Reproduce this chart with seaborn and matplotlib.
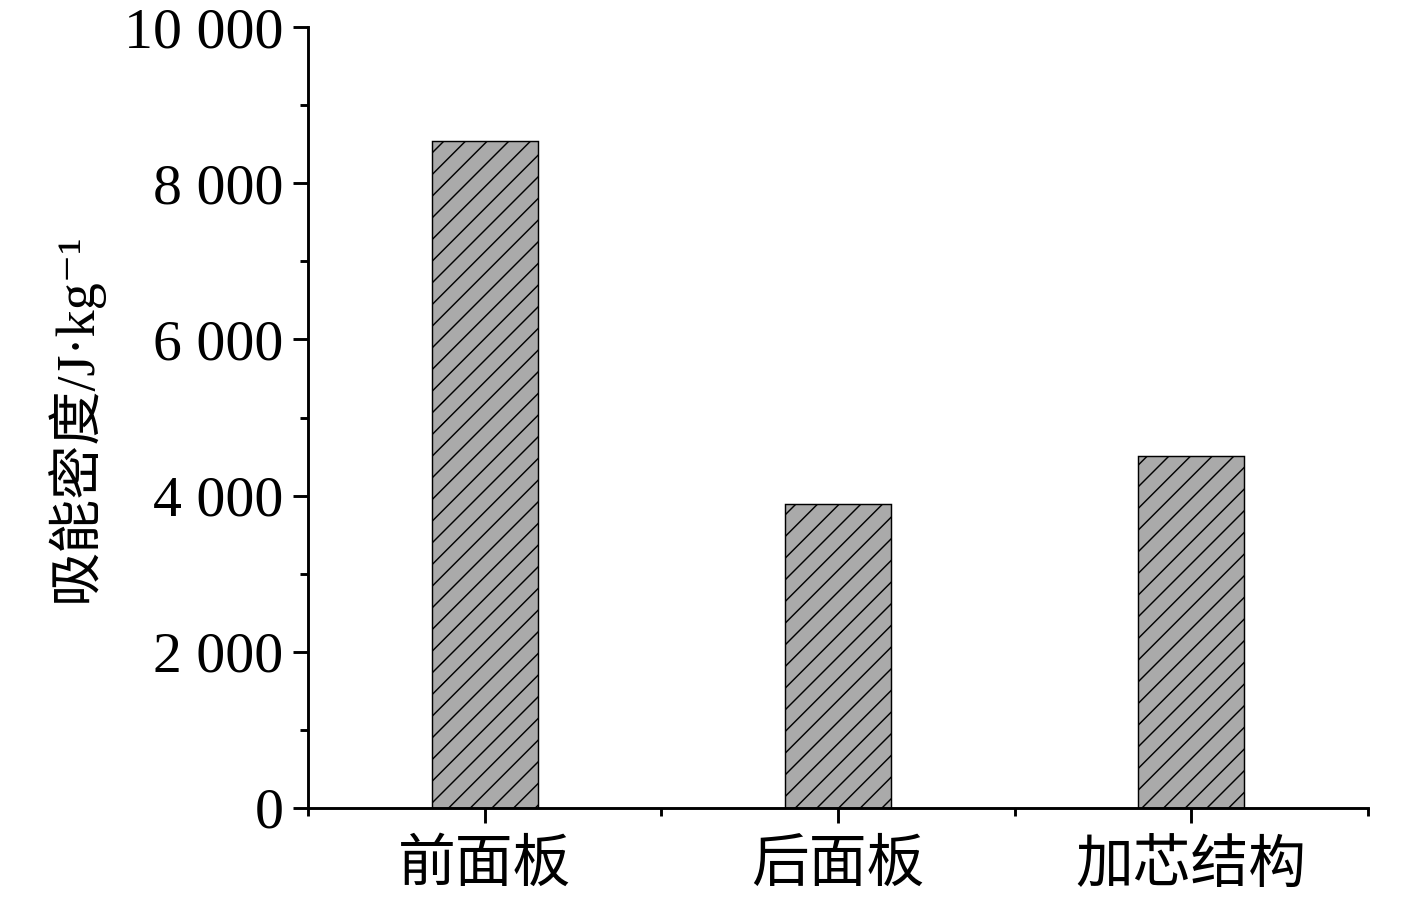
import matplotlib
matplotlib.use("Agg")
import matplotlib.pyplot as plt
import seaborn as sns
import pandas as pd
from matplotlib.ticker import FuncFormatter, MultipleLocator, FixedLocator

# 数据
categories = ["前面板", "后面板", "加芯结构"]
energy = [8540, 3890, 4510]

df = pd.DataFrame({"结构": categories, "吸能密度": energy})

sns.set_style("ticks")
plt.rcParams["font.family"] = ["Liberation Serif", "Noto Sans CJK SC", "DejaVu Serif"]
plt.rcParams["hatch.linewidth"] = 0.8
for k in ["axes.edgecolor", "xtick.color", "ytick.color", "text.color",
          "axes.labelcolor", "xtick.labelcolor", "ytick.labelcolor"]:
    plt.rcParams[k] = "black"

fig = plt.figure(figsize=(1417 / 130, 904 / 130), dpi=130)
ax = fig.add_axes([0.2174, 0.1062, 0.7480, 0.8639])

sns.barplot(data=df, x="结构", y="吸能密度", color="#aaaaaa", width=0.3,
            edgecolor="black", linewidth=0.8, hatch="//", saturation=1, ax=ax)

ax.set_xlim(-0.5, 2.5)
ax.set_ylim(0, 10000)
ax.yaxis.set_major_locator(MultipleLocator(2000))
ax.yaxis.set_minor_locator(MultipleLocator(1000))
ax.xaxis.set_minor_locator(FixedLocator([-0.5, 0.5, 1.5, 2.5]))
ax.yaxis.set_major_formatter(FuncFormatter(lambda v, p: f"{int(v):,}".replace(",", " ")))

sns.despine(ax=ax)
for s in ["left", "bottom"]:
    ax.spines[s].set_linewidth(1.6)

ax.tick_params(which="major", length=8.5, width=1.6, labelsize=32, pad=5)
ax.tick_params(which="minor", length=4.5, width=1.6)
ax.tick_params(axis="x", which="major", pad=9)

ax.set_xlabel("")
ax.set_ylabel("吸能密度/J·kg⁻¹", fontsize=30, labelpad=12)

plt.savefig("out.png", dpi=130)
